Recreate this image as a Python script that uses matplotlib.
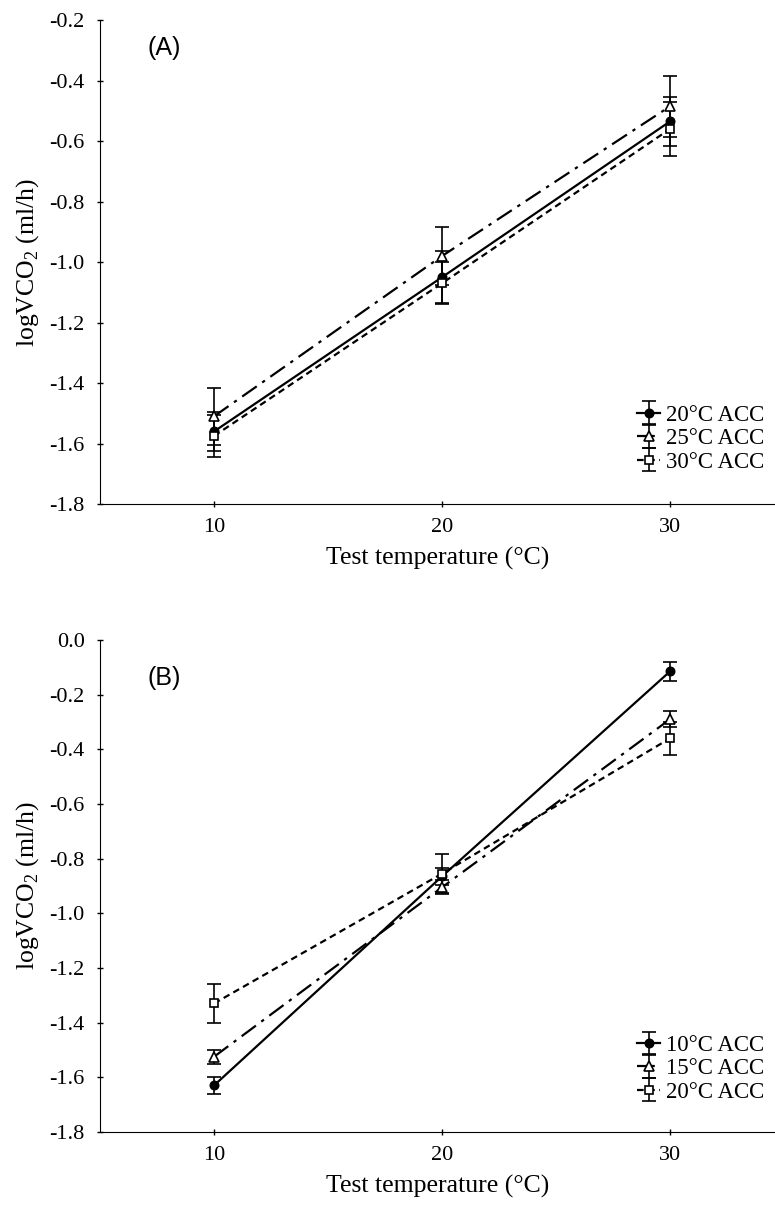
import matplotlib
matplotlib.use("Agg")
import matplotlib.pyplot as plt

plt.rcParams['font.family'] = ['Liberation Serif', 'DejaVu Serif']
plt.rcParams['mathtext.fontset'] = 'custom'
plt.rcParams['mathtext.rm'] = 'Liberation Serif'

test_temp = [10, 20, 30]

# Panel A
labels_a = ["20°C ACC", "25°C ACC", "30°C ACC"]
means_a = [
    [-1.56, -1.05, -0.535],
    [-1.51, -0.98, -0.485],
    [-1.575, -1.07, -0.56],
]
errs_a = [
    [0.065, 0.085, 0.08],
    [0.095, 0.095, 0.10],
    [0.07, 0.07, 0.09],
]

# Panel B
labels_b = ["10°C ACC", "15°C ACC", "20°C ACC"]
means_b = [
    [-1.63, -0.865, -0.115],
    [-1.525, -0.905, -0.29],
    [-1.33, -0.855, -0.36],
]
errs_b = [
    [0.03, 0.03, 0.035],
    [0.025, 0.025, 0.03],
    [0.07, 0.07, 0.06],
]

yticks_a = [-1.8, -1.6, -1.4, -1.2, -1.0, -0.8, -0.6, -0.4, -0.2]
yticks_b = [-1.8, -1.6, -1.4, -1.2, -1.0, -0.8, -0.6, -0.4, -0.2, 0.0]

markers = ['o', '^', 's']
msizes = [6, 6.5, 5.5]
mfcs = ['black', 'white', 'white']
linestyles = ['-', (0, (8, 3, 1.5, 3)), (0, (3, 2))]

fig = plt.figure(figsize=(7.75, 12.06), dpi=100)
axA = fig.add_axes([0.129, 0.582, 0.871, 0.4014])
axB = fig.add_axes([0.129, 0.0614, 0.871, 0.408])


def draw(ax, means, errs, labels, yticks, ylim, tag, tag_y, leg_y):
    for i in range(3):
        ax.errorbar(test_temp, means[i], yerr=errs[i], marker=markers[i],
                    mfc=mfcs[i], mec='black', ms=msizes[i], mew=1.2,
                    color='black', ls=linestyles[i], lw=1.6,
                    elinewidth=1.2, capsize=5, capthick=1.2,
                    label=labels[i])
    ax.set_xlim(5, 34.6)
    ax.set_ylim(*ylim)
    ax.set_xticks(test_temp)
    ax.set_yticks(yticks)
    ax.set_yticklabels([f"{v:.1f}" for v in yticks])
    ax.spines['top'].set_visible(False)
    ax.spines['right'].set_visible(False)
    ax.tick_params(axis='both', labelsize=16, direction='inout', length=4, width=1)
    ax.tick_params(axis='y', pad=9)
    ax.tick_params(axis='x', pad=8)
    ax.set_xlabel("Test temperature (°C)", fontsize=18.5, labelpad=7)
    ax.set_ylabel("logVCO$_2$ (ml/h)", fontsize=18.5, labelpad=6)
    ax.text(0.071, tag_y, tag, transform=ax.transAxes, fontsize=18,
            family='Liberation Sans', ha='left', va='center')
    ax.legend(loc='upper left', bbox_to_anchor=(0.796, leg_y), frameon=False,
              fontsize=16.5, handlelength=1.0, handletextpad=0.25,
              labelspacing=0.1, borderaxespad=0, borderpad=0)


draw(axA, means_a, errs_a, labels_a, yticks_a, (-1.8, -0.2), "(A)", 0.942, 0.205)
draw(axB, means_b, errs_b, labels_b, yticks_b, (-1.8, 0.0), "(B)", 0.923, 0.197)

fig.savefig("out.png", dpi=100)
